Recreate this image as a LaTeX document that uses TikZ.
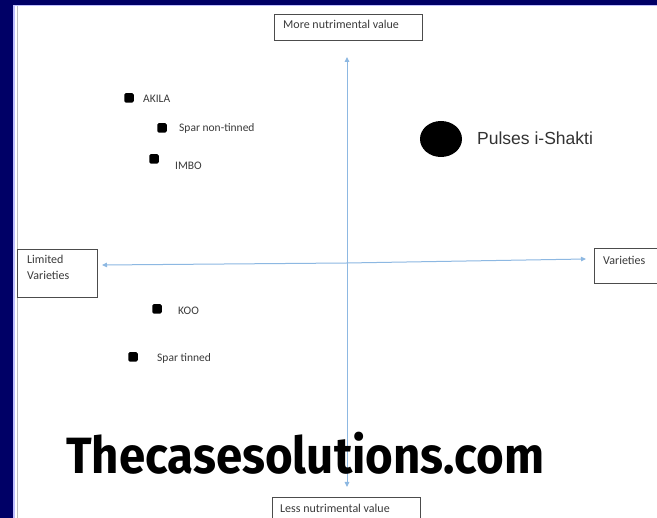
\documentclass[tikz,border=0pt]{standalone}
\usepackage{fontspec}
\usepackage{graphicx}
\setmainfont{Carlito}
\newfontfamily\arialf{Liberation Sans}
\newfontfamily\wmfont{Fira Sans}[UprightFont=* Bold]
\usetikzlibrary{arrows.meta,shapes.geometric}
\definecolor{navyb}{HTML}{000066}
\definecolor{axisblue}{HTML}{8DB8E2}
\definecolor{txtgray}{HTML}{3A3A3A}
\tikzset{
  x=1pt,y=-1pt,
  lblbox/.style={draw=black!70,line width=0.8pt,fill=white,inner sep=0pt},
  lbltext/.style={anchor=west,inner sep=0pt,font=\fontsize{12}{15.5}\selectfont,text=txtgray},
  sq/.style={fill=black,rounded corners=1.5pt,minimum size=9.5pt,inner sep=0pt},
  brand/.style={font=\fontsize{11.5}{14}\selectfont,text=txtgray,anchor=west,inner sep=0pt},
  axis/.style={draw=axisblue,line width=1pt,-{Triangle[length=5pt,width=4.5pt]}}
}
\begin{document}
\begin{tikzpicture}
\useasboundingbox (0,0) rectangle (657,518);
\fill[white] (0,0) rectangle (657,518);
% border
\fill[navyb] (0,0) rectangle (657,5);
\fill[navyb] (0,0) rectangle (13,518);
\fill[blue!25!white] (13,5) rectangle (15,518);
\fill[blue!25!white] (13,5) rectangle (657,6.5);
\draw[gray!50,line width=0.8pt] (17,6.5) -- (17,518);
% center
\coordinate (c) at (347,263);
\coordinate (top) at (347,57);
\coordinate (bot) at (347,487);
\coordinate (lft) at (102,265);
\coordinate (rgt) at (586,259);
% label boxes
\node[lblbox,minimum width=148pt,minimum height=26pt] (more) at (348,27) {};
\node[lbltext] (moret) at (283,24) {More nutrimental value};
\node[lblbox,minimum width=80pt,minimum height=48pt] (lim) at (57,273) {};
\node[lbltext,anchor=north west,align=left] (limt) at (27,255) {Limited\\Varieties};
\node[lblbox,minimum width=80pt,minimum height=35pt] (var) at (634,265.5) {};
\node[lbltext] (vart) at (603,260) {Varieties};
\node[lblbox,minimum width=148pt,minimum height=40pt] (less) at (346,517) {};
\node[lbltext] (lesst) at (280,508) {Less nutrimental value};
% axes
\draw[axis] (c) -- (top);
\draw[axis] (c) -- (bot);
\draw[axis] (c) -- (lft);
\draw[axis] (c) -- (rgt);
% markers
\node[sq] (akila) at (129,98) {};
\node[brand] (akilat) at (143,99) {AKILA};
\node[sq] (spn) at (162,128) {};
\node[brand] (spnt) at (179,128.5) {Spar non-tinned};
\node[sq] (imbo) at (154,159) {};
\node[brand] (imbot) at (175,166) {IMBO};
\node[sq] (koo) at (157,309) {};
\node[brand] (koot) at (178,310.5) {KOO};
\node[sq] (spt) at (133,357) {};
\node[brand] (sptt) at (157,358.5) {Spar tinned};
\node[ellipse,fill=black,minimum width=42pt,minimum height=36pt,inner sep=0pt] (ish) at (441,139) {};
\node[anchor=west,inner sep=0pt,font=\arialf\fontsize{17.5}{20}\selectfont,text=black!80] (isht) at (477,138) {Pulses i-Shakti};
% watermark
\node[anchor=west,inner sep=0pt,font=\wmfont\fontsize{51}{60}\selectfont] (wm) at (66,453) {\scalebox{0.93}[1]{Thecasesolutions.com}};
\end{tikzpicture}
\end{document}
